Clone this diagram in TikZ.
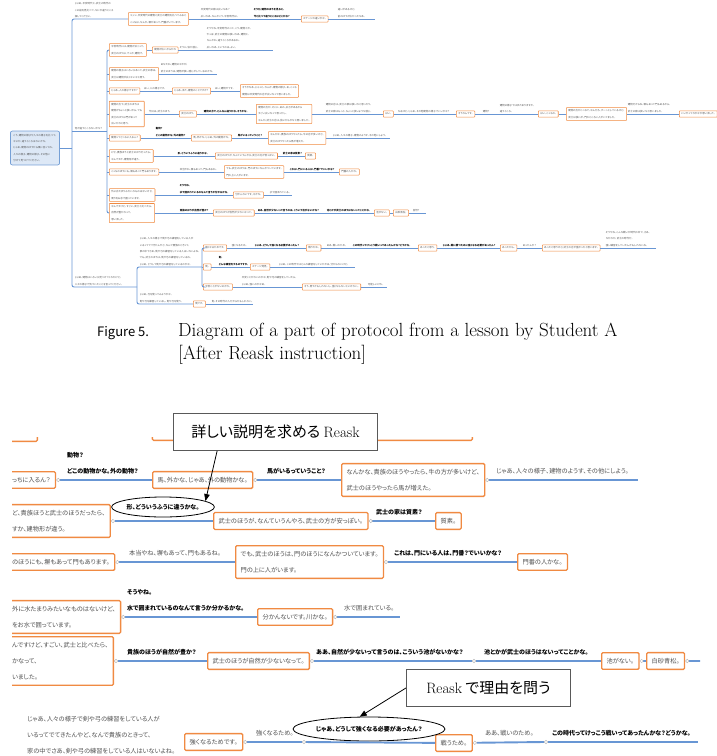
\documentclass[tikz,border=0pt]{standalone}
\usepackage{fontspec}
\newfontfamily\jpfont[RawFeature={+palt}]{Noto Sans CJK JP}
\usetikzlibrary{arrows.meta,positioning,shapes.geometric}

\definecolor{pmOrange}{RGB}{240,138,66}
\definecolor{pmBlue}{RGB}{104,150,212}
\definecolor{pmRootFill}{RGB}{221,232,246}
\definecolor{pmRootDraw}{RGB}{118,160,214}
\definecolor{pmGray}{RGB}{80,80,80}

\def\ProtoMapBoxLW{0.55pt}
\def\ProtoMapLinkLW{0.95pt}
\def\ProtoZoomBoxLW{1.3pt}
\def\ProtoZoomLinkLW{1.9pt}
\def\ProtoMapFont{\jpfont\fontsize{2.5}{6.4}\selectfont}
\def\ProtoZoomFont{\jpfont\fontsize{6.2}{16}\selectfont}
\def\ProtoZoomBoldFont{\jpfont\fontsize{6}{16}\selectfont\bfseries}
\newcommand{\ProtoMapStyles}{%
  \tikzset{
    pmtext/.style={font=\ProtoMapFont, text=pmGray, align=left,
      inner xsep=0.6pt, inner ysep=1.2pt},
    pmbold/.style={pmtext, text=black, font=\ProtoMapFont\bfseries},
    pmbox/.style={pmtext, draw=pmOrange, fill=white, line width=\ProtoMapBoxLW,
      rounded corners=0.6pt, inner xsep=2pt, inner ysep=2pt},
    pmroot/.style={pmtext, draw=pmRootDraw, fill=pmRootFill, line width=0.7pt,
      rounded corners=2pt, inner xsep=3pt, inner ysep=3pt},
    pmlink/.style={draw=pmBlue, line width=\ProtoMapLinkLW, rounded corners=2pt},
    zmtext/.style={font=\ProtoZoomFont, text=pmGray, align=left,
      inner xsep=1pt, inner ysep=6pt},
    zmbold/.style={zmtext, text=black, font=\ProtoZoomBoldFont},
    zmbox/.style={zmtext, draw=pmOrange, fill=white, line width=\ProtoZoomBoxLW,
      rounded corners=1.2pt, inner xsep=5pt, inner ysep=5.5pt},
    zmcutbox/.style={zmbox, anchor=west},
    zmlink/.style={draw=pmBlue, line width=\ProtoZoomLinkLW,
      arrows={Circle[open, length=4pt, width=4pt, line width=0.5pt, color=gray!55]-}},
    zmoval/.style={ellipse, draw=black, line width=0.8pt, inner sep=0pt,
      font=\ProtoZoomBoldFont},
    zmcallout/.style={draw=gray!70!black, fill=white, line width=0.9pt,
      inner sep=2pt, font=\jpfont\fontsize{15}{16}\selectfont},
    zmpointer/.style={arrows={-Triangle[length=7pt, width=5.5pt]},
      line width=0.8pt, black},
  }%
}

\begin{document}
\begin{tikzpicture}[x=1pt, y=-1pt]
  \ProtoMapStyles
  \useasboundingbox (0,0) rectangle (717,756);

  % overview map
  \node[pmroot] (pmRoot) at (35,148) {こう、建物の様子や人々の様子を比べて、\\なにか、違うところはないかな。\\じゃあ、建物のほうから順に言ってね。\\人々の様子、建物の様子、その他に\\分けて見つけてください。};
  \coordinate (pmTrunk) at (72,148);
  \coordinate (pmForkB) at (107,131);
  \coordinate (pmForkC) at (137,287);
  \coordinate (pmForkC1) at (202,267);

  \node[pmtext, anchor=south west] (pmA0) at (74,19) {じゃあ、平安時代と、武士の時代の\\この絵を見比べて、なにか違うところ\\探してください。};
  \node[pmbox, anchor=west] (pmA1) at (128,19) {ミッシ、平安時代の建物と武士の建物を比べてみると\\こっちは、なんか、塀があって、門番がいています。};
  \node[pmtext, anchor=south west] (pmA2) at (200,19) {平安時代の家は広いなあ？\\広いなあ、なんかこう、平安時代は。};
  \node[pmbold, anchor=south west] (pmA3) at (253,19) {そうだ、建物のほうを見ると、\\今と比べて違うところはどこかな？};
  \node[pmbox, anchor=west] (pmA4) at (301,19) {ステージの違いかな。};
  \node[pmtext, anchor=south west] (pmA5) at (337,19) {違いがあるけど、\\前のほうが広かったなあ。};
  \coordinate (pmAend) at (375,19);

  \node[pmtext, anchor=south west] (pmB0) at (74,131) {何か違うところないかな？};

  \node[pmbox, anchor=west] (pmB1a) at (109,50) {平安時代には、建物が広くって、\\武士のほうは、でっか、建物で。};
  \node[pmbox, anchor=west] (pmB1b) at (152,50) {建物が広いからかな};
  \node[pmtext, anchor=south west] (pmB1c) at (179,50) {そうに、似た感じ。};
  \node[pmtext, anchor=south west] (pmB1d) at (206,50) {そうやね、平安時代のって、こう、建物とか、\\やっぱ、武士の建物は狭いなあ、建物と、\\なんかね、違うところがあるね。\\広いなあ、というのは、よい。};
  \coordinate (pmB1end) at (273,50);

  \node[pmbox, anchor=west] (pmB2a) at (109,74) {建物の様子はいろいろあって、武士の家は、\\武士は建物が広くないなと思う。};
  \node[pmtext, anchor=south west] (pmB2b) at (160,74) {あなたね、建物のなかが、\\武士のほうは、建物が狭い感じがしているのかな。};
  \coordinate (pmB2end) at (217,74);

  \node[pmbox, anchor=west] (pmB3a) at (109,91) {じゃあ、人の様子ですか？};
  \node[pmtext, anchor=south west] (pmB3b) at (143,91) {はい、人の様子です。};
  \node[pmbox, anchor=west] (pmB3c) at (172,91) {じゃあ、また、建物のことですか？};
  \node[pmtext, anchor=south west] (pmB3d) at (214,91) {はい、建物やです。};
  \node[pmbox, anchor=west] (pmB3e) at (240,91) {そうやなあ、じゃっと、なんか、建物の様子、あ、こっち\\建物は平安時代の方が広いなって思いました。};

  \node[pmbox, anchor=west] (pmB4a) at (109,114) {建物の方で、武士のほうは\\建物がちょっと狭いから、でも\\武士のほうは門があって\\広いかなと思う。};
  \node[pmtext, anchor=south west] (pmB4b) at (148,114) {今日は、武士のほう。};
  \node[pmbox, anchor=west] (pmB4c) at (179,114) {武士のほう。};
  \node[pmbold, anchor=south west] (pmB4d) at (203,114) {建物の方で、どんなん違うかな、そうかな。};
  \node[pmbox, anchor=west] (pmB4e) at (256,114) {建物の方が、そこに、あの、広さがあるから\\すごい広いなって思ったし、\\なんか、武士の方は、狭いからかなと思いました。};
  \node[pmtext, anchor=south west] (pmB4f) at (325,114) {建物の方は、武士の家は狭いなと思ったり、\\武士の家はもっと、ちょっと狭いような感じ。};
  \node[pmbox, anchor=west] (pmB4g) at (383,114) {はい。};
  \node[pmtext, anchor=south west] (pmB4h) at (397,114) {なるほど、じゃあ、その他建物の様子でいいかな？};
  \node[pmbox, anchor=west] (pmB4i) at (456,114) {そうなんです。};
  \node[pmtext, anchor=south west] (pmB4j) at (482,114) {建物？};
  \node[pmtext, anchor=south west] (pmB4k) at (499,114) {建物の様子ではまたありますか、\\違うところ、};
  \node[pmbox, anchor=west] (pmB4l) at (538,114) {はい、こっちの。};
  \node[pmbox, anchor=west] (pmB4m) at (566,114) {建物の方がこっちで、なんだろ、すーっとしているけど、\\武士は狭いが、門のところに人がいてました。};
  \node[pmtext, anchor=south west] (pmB4n) at (627,114) {建物だからね、塀もあって門もあるから、\\武士の家は狭いなと思いました。};
  \node[pmbox, anchor=west] (pmB4o) at (679,114) {いいやってなかなか思いました。};

  \node[pmbox, anchor=west] (pmB5a) at (109,138) {動物ってどっちに入るん？};
  \node[pmbold, anchor=south west] (pmB5b) at (155,138) {動物？\\どこの動物かな。外の動物？};
  \node[pmbox, anchor=west] (pmB5c) at (191,138) {馬、外かな、じゃあ、外の動物かな。};
  \node[pmbold, anchor=south west] (pmB5d) at (237,138) {馬がいるっていうこと？};
  \node[pmbox, anchor=west] (pmB5e) at (268,138) {なんかな、貴族のほうやったら、牛の方が多いけど、\\武士のほうやったら馬が増えた。};
  \node[pmtext, anchor=south west] (pmB5f) at (332,138) {じゃあ、人々の様子、建物のようす、その他にしよう。};
  \coordinate (pmB5end) at (390,138);

  \node[pmbox, anchor=west] (pmB6a) at (109,156) {けど、貴族ほうと武士のほうだったら、\\なんですか、建物形が違う。};
  \node[pmbold, anchor=south west] (pmB6b) at (177,156) {形、どういうふうに違うかな。};
  \node[pmbox, anchor=west] (pmB6c) at (215,156) {武士のほうが、なんていうんやろ、武士の方が安っぽい。};
  \node[pmbold, anchor=south west] (pmB6d) at (282,156) {武士の家は質素？};
  \node[pmbox, anchor=west] (pmB6e) at (305,156) {質素。};

  \node[pmbox, anchor=west] (pmB7a) at (109,172) {こっちのほうにも、塀もあって門もあります。};
  \node[pmtext, anchor=south west] (pmB7b) at (179,172) {本当やね、塀もあって、門もあるね。};
  \node[pmbox, anchor=west] (pmB7c) at (224,172) {でも、武士のほうは、門のほうになんかついています。\\門の上に人がいます。};
  \node[pmbold, anchor=south west] (pmB7d) at (289,172) {これは、門にいる人は、門番？でいいかな？};
  \node[pmbox, anchor=west] (pmB7e) at (339,172) {門番の人かな。};

  \node[pmbox, anchor=west] (pmB8a) at (109,195) {外に水たまりみたいなものはないけど、\\周りをお水で囲っています。};
  \node[pmbold, anchor=south west] (pmB8b) at (179,195) {そうやね。\\水で囲まれているのなんて言うか分かるかな。};
  \node[pmbox, anchor=west] (pmB8c) at (233,195) {分かんないです。川かな。};
  \node[pmtext, anchor=south west] (pmB8d) at (269,195) {水で囲まれている。};
  \coordinate (pmB8end) at (292,195);

  \node[pmbox, anchor=west] (pmB9a) at (109,213) {なんですけど、すごい、武士と比べたら、\\自然が豊かなって、\\思いました。};
  \node[pmbold, anchor=south west] (pmB9b) at (179,213) {貴族のほうが自然が豊か？};
  \node[pmbox, anchor=west] (pmB9c) at (213,213) {武士のほうが自然が少ないなって。};
  \node[pmbold, anchor=south west] (pmB9d) at (257,213) {ああ、自然が少ないって言うのは、こういう池がないかな？};
  \node[pmbold, anchor=south west] (pmB9e) at (326,213) {池とかが武士のほうはないってことかな。};
  \node[pmbox, anchor=west] (pmB9f) at (374,213) {池がない。};
  \node[pmbox, anchor=west] (pmB9g) at (393,213) {白砂青松。};
  \node[pmtext, anchor=south west] (pmB9h) at (412,213) {自然？};
  \coordinate (pmB9end) at (426,213);

  \node[pmtext, anchor=south west] (pmC0) at (74,287) {じゃあ、建物はいろいろ見つけてくれたけど、\\人々の様子で気づいたことを言ってください。};
  \node[pmtext, anchor=south west] (pmC1) at (139,267) {じゃあ、人々の様子で剣や弓の練習をしている人が\\いるってでてきたんやど、なんで貴族のときって、\\家の中でさあ、剣や弓の練習をしている人はいないよね。\\でも、武士のほうは、剣や弓の練習をしているね。\\じゃあ、どうして剣や弓の練習をしているのかな。};
  \node[pmbox, anchor=west] (pmC1a) at (203,248) {強くなるためです。};
  \node[pmtext, anchor=south west] (pmC1b) at (231,248) {強くなるため。};
  \node[pmbold, anchor=south west] (pmC1c) at (254,248) {じゃあ、どうして強くなる必要があったん？};
  \node[pmbox, anchor=west] (pmC1d) at (306,248) {戦うため。};
  \node[pmtext, anchor=south west] (pmC1e) at (326,248) {ああ、戦いのため。};
  \node[pmbold, anchor=south west] (pmC1f) at (352,248) {この時代ってけっこう戦いってあったんかな？どうかな。};
  \node[pmbox, anchor=west] (pmC1g) at (418,248) {あったと思う。};
  \node[pmbold, anchor=south west] (pmC1h) at (442,248) {じゃあ、戦に勝つために強くなる必要があったん？};
  \node[pmbox, anchor=west] (pmC1i) at (500,248) {あったから。};
  \node[pmtext, anchor=south west] (pmC1j) at (522,248) {あったんか？};
  \node[pmbox, anchor=west] (pmC1k) at (542,248) {あったと思うけど、武士の方が強かったと思います。};
  \node[pmtext, anchor=south west] (pmC1l) at (605,248) {そうやね、こんな戦いが時代の中で、さあ、\\なかなか、武士の時代だ。\\強い練習をしていたんかもしれないね。};
  \coordinate (pmC1end) at (656,248);

  \node[pmbox, anchor=west] (pmC2a) at (203,267) {剣、};
  \node[pmbold, anchor=south west] (pmC2b) at (218,267) {剣。\\どんな練習をするのですか。};
  \node[pmbox, anchor=west] (pmC2c) at (250,267) {ステージ発見。};
  \node[pmtext, anchor=south west] (pmC2d) at (278,267) {じゃあ、この時代ではどんな練習をしていたかは、分からないけど。};
  \coordinate (pmC2end) at (355,267);

  \node[pmbox, anchor=west] (pmC3a) at (203,287) {平安ことがないのかな。};
  \node[pmtext, anchor=south west] (pmC3b) at (241,287) {平安ことがないのかな、剣や弓の練習をしていたら、\\じゃあ、強いのかなあ。};
  \node[pmbox, anchor=west] (pmC3c) at (302,287) {そう、思うかもしれないし、強くならないといけない。};
  \node[pmtext, anchor=south west] (pmC3d) at (367,287) {可能しいけれ。};
  \coordinate (pmC3end) at (387,287);

  \node[pmtext, anchor=south west] (pmC4) at (139,304) {じゃあ、弓を使ってみようかな。\\剣や弓を練習しているし、剣や弓を使う。};
  \node[pmbox, anchor=west] (pmC4a) at (193,304) {剣です。};
  \node[pmtext, anchor=south west] (pmC4b) at (211,304) {剣、その時代の人だからかもしれない。};
  \coordinate (pmC4end) at (253,304);

  \draw[pmlink] (pmRoot) -- (pmTrunk);
  \draw[pmlink] (pmA1.west) -| (pmTrunk) |- (pmForkC);
  \draw[pmlink] (pmTrunk |- pmForkB) -- (pmForkB);
  \draw[pmlink] (pmB1a.west) -| (pmForkB) |- (pmB9a.west);
  \foreach \n in {pmB2a,pmB3a,pmB4a,pmB5a,pmB6a,pmB7a,pmB8a}
    \draw[pmlink] (pmForkB |- \n.west) -- (\n.west);
  \draw[pmlink] (pmForkC1) -- (pmForkC |- pmForkC1) |- (pmC4a.west);
  \draw[pmlink] (pmC1a.west) -| (pmForkC1) |- (pmC3a.west);
  \draw[pmlink] (pmForkC1) -- (pmC2a.west);
  \draw[pmlink] (pmA1) -- (pmA4) -- (pmAend);
  \draw[pmlink] (pmB1a) -- (pmB1b) -- (pmB1end);
  \draw[pmlink] (pmB2a) -- (pmB2end);
  \draw[pmlink] (pmB3a) -- (pmB3c) -- (pmB3e);
  \draw[pmlink] (pmB4a) -- (pmB4c) -- (pmB4e) -- (pmB4g) -- (pmB4i) -- (pmB4l) -- (pmB4m) -- (pmB4o);
  \draw[pmlink] (pmB5a) -- (pmB5c) -- (pmB5e) -- (pmB5end);
  \draw[pmlink] (pmB6a) -- (pmB6c) -- (pmB6e);
  \draw[pmlink] (pmB7a) -- (pmB7c) -- (pmB7e);
  \draw[pmlink] (pmB8a) -- (pmB8c) -- (pmB8end);
  \draw[pmlink] (pmB9a) -- (pmB9c) -- (pmB9f) -- (pmB9g) -- (pmB9end);
  \draw[pmlink] (pmC1a) -- (pmC1d) -- (pmC1g) -- (pmC1i) -- (pmC1k) -- (pmC1end);
  \draw[pmlink] (pmC2a) -- (pmC2c) -- (pmC2end);
  \draw[pmlink] (pmC3a) -- (pmC3c) -- (pmC3end);
  \draw[pmlink] (pmC4a) -- (pmC4end);

  % caption
  \node[anchor=base west, inner sep=0pt, font=\jpfont\fontsize{13}{14}\selectfont] (capFig) at (97,336) {Figure 5.};
  \node[anchor=base west, inner sep=0pt, font=\fontsize{19}{22}\selectfont] (capText) at (178,336) {Diagram of a part of protocol from a lesson by Student A};
  \node[anchor=base west, inner sep=0pt, font=\fontsize{19}{22}\selectfont] (capSub) at (178,359) {[After Reask instruction]};

  % enlarged part
  \begin{scope}
    \clip (12,437) rectangle (700,756);
    \node[zmbox, anchor=south east, minimum width=60pt, minimum height=30pt] (zmTopL) at (38,442) {};
    \node[zmbox, anchor=south east, minimum width=320pt, minimum height=30pt] (zmTopR) at (473,441) {};

    \node[zmcutbox] (zmL1) at (6.5,480) {っちに入るん？};
    \node[zmbold, anchor=south west] (zmQ1) at (66,480) {動物？\\どこの動物かな。外の動物？};
    \node[zmbox, anchor=west] (zmA1) at (152,480) {馬、外かな、じゃあ、外の動物かな。};
    \node[zmbold, anchor=south west] (zmQ2) at (266,480) {馬がいるっていうこと？};
    \node[zmbox, anchor=west] (zmB1) at (341,480) {なんかな、貴族のほうやったら、牛の方が多いけど、\\武士のほうやったら馬が増えた。};
    \node[zmtext, anchor=south west] (zmT1) at (495,480) {じゃあ、人々の様子、建物のようす、その他にしよう。};
    \coordinate (zmE1) at (638,480);

    \node[zmcutbox] (zmL2) at (6.5,521) {ど、貴族ほうと武士のほうだったら、\\すか、建物形が違う。};
    \node[zmoval, minimum width=97pt, minimum height=20pt] (zmO1) at (163,507) {形、どういうふうに違うかな。};
    \node[zmbox, anchor=west] (zmA2) at (213,521) {武士のほうが、なんていうんやろ、武士の方が安っぽい。};
    \node[zmbold, anchor=south west] (zmQ3) at (375,521) {武士の家は質素？};
    \node[zmbox, anchor=west] (zmB2) at (435,521) {質素。};

    \node[zmcutbox] (zmL3) at (6.5,562) {のほうにも、塀もあって門もあります。};
    \node[zmtext, anchor=south west] (zmT3) at (128,562) {本当やね、塀もあって、門もあるね。};
    \node[zmbox, anchor=west] (zmA3) at (235,562) {でも、武士のほうは、門のほうになんかついています。\\門の上に人がいます。};
    \node[zmbold, anchor=south west] (zmQ4) at (393,562) {これは、門にいる人は、門番？でいいかな？};
    \node[zmbox, anchor=west] (zmB3) at (517,562) {門番の人かな。};

    \node[zmcutbox] (zmL4) at (6.5,617) {外に水たまりみたいなものはないけど、\\をお水で囲っています。};
    \node[zmbold, anchor=south west] (zmQ5) at (126,617) {そうやね。\\水で囲まれているのなんて言うか分かるかな。};
    \node[zmbox, anchor=west] (zmA4) at (257,617) {分かんないです。川かな。};
    \node[zmtext, anchor=south west] (zmT4) at (343,617) {水で囲まれている。};
    \coordinate (zmE4) at (400,617);

    \node[zmcutbox] (zmL5) at (6.5,661) {んですけど、すごい、武士と比べたら、\\かなって、\\いました。};
    \node[zmbold, anchor=south west] (zmQ6) at (126,661) {貴族のほうが自然が豊か？};
    \node[zmbox, anchor=west] (zmA5) at (207,661) {武士のほうが自然が少ないなって。};
    \node[zmbold, anchor=south west] (zmQ7) at (315,661) {ああ、自然が少ないって言うのは、こういう池がないかな？};
    \coordinate (zmJ5) at (472,661);
    \node[zmbold, anchor=south west] (zmQ8) at (483,661) {池とかが武士のほうはないってことかな。};
    \node[zmbox, anchor=west] (zmB5) at (601,661) {池がない。};
    \node[zmbox, anchor=west] (zmC5) at (646,661) {白砂青松。};
    \coordinate (zmE5) at (712,661);

    \node[zmtext, anchor=north west] (zmT6) at (26,710) {じゃあ、人々の様子で剣や弓の練習をしている人が\\いるってでてきたんやど、なんで貴族のときって、\\家の中でさあ、剣や弓の練習をしている人はいないよね。};
    \node[zmbox, anchor=west] (zmA6) at (184,742) {強くなるためです。};
    \node[zmtext, anchor=south west] (zmT7) at (255,742) {強くなるため。};
    \coordinate (zmJ6) at (302,742);
    \node[zmbox, anchor=west] (zmB6) at (435,743) {戦うため。};
    \node[zmoval, minimum width=152pt, minimum height=24pt] (zmO2) at (369,729) {じゃあ、どうして強くなる必要があったん？};
    \node[zmtext, anchor=south west] (zmT8) at (484,742) {ああ、戦いのため。};
    \coordinate (zmJ6b) at (544,742);
    \node[zmbold, anchor=south west] (zmQ9) at (551,742) {この時代ってけっこう戦いってあったんかな？どうかな。};
    \coordinate (zmE6) at (698,742);

    \foreach \a/\b in {zmL1/zmA1, zmA1/zmB1, zmB1/zmE1, zmL2/zmA2, zmA2/zmB2,
        zmL3/zmA3, zmA3/zmB3, zmL4/zmA4, zmA4/zmE4, zmL5/zmA5, zmA5/zmJ5,
        zmJ5/zmB5, zmB5/zmC5, zmC5/zmE5, zmA6/zmJ6, zmJ6/zmB6, zmB6/zmJ6b,
        zmJ6b/zmE6}
      \draw[zmlink] (\a) -- (\b);
  \end{scope}

  % reask callouts
  \node[zmcallout, minimum width=204pt, minimum height=37pt, anchor=north west] (zmC1) at (173,413) {詳しい説明を求める {\rmfamily Reask}};
  \node[zmcallout, minimum width=164pt, minimum height=37pt, anchor=north west] (zmC2) at (406,669) {{\rmfamily Reask} で理由を問う};
  \draw[zmpointer] (zmC1.198) -- (zmO1.8);
  \draw[zmpointer] (zmC2.west) -- (zmO2.127);
\end{tikzpicture}
\end{document}
